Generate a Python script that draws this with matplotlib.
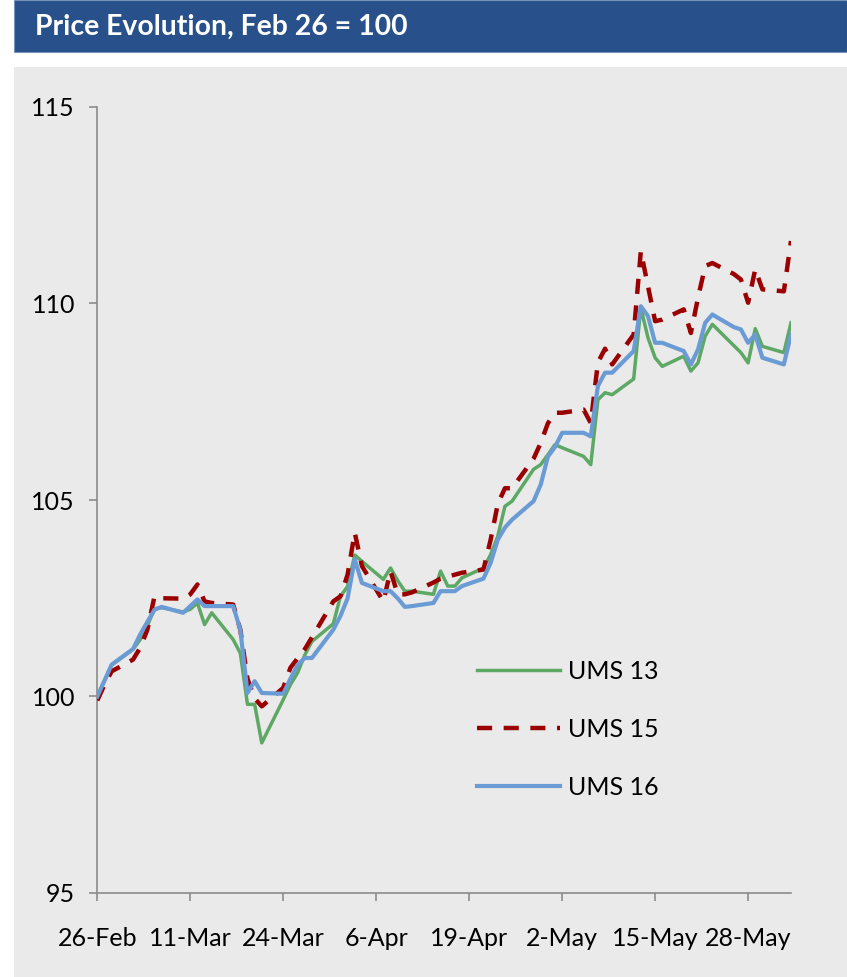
import numpy as np
import matplotlib
matplotlib.use("Agg")
import matplotlib.pyplot as plt
from matplotlib.patches import Rectangle

plt.rcParams['font.family'] = ['Lato', 'DejaVu Sans']

# Trading days, 2014
dates = [
    "2014-02-26", "2014-02-27", "2014-02-28",
    "2014-03-03", "2014-03-04", "2014-03-05", "2014-03-06", "2014-03-07",
    "2014-03-10", "2014-03-11", "2014-03-12", "2014-03-13", "2014-03-14",
    "2014-03-17", "2014-03-18", "2014-03-19", "2014-03-20", "2014-03-21",
    "2014-03-24", "2014-03-25", "2014-03-26", "2014-03-27", "2014-03-28",
    "2014-03-31", "2014-04-01", "2014-04-02", "2014-04-03", "2014-04-04",
    "2014-04-07", "2014-04-08", "2014-04-09", "2014-04-10", "2014-04-11",
    "2014-04-14", "2014-04-15", "2014-04-16", "2014-04-17", "2014-04-18",
    "2014-04-21", "2014-04-22", "2014-04-23", "2014-04-24", "2014-04-25",
    "2014-04-28", "2014-04-29", "2014-04-30", "2014-05-01", "2014-05-02",
    "2014-05-05", "2014-05-06", "2014-05-07", "2014-05-08", "2014-05-09",
    "2014-05-12", "2014-05-13", "2014-05-14", "2014-05-15", "2014-05-16",
    "2014-05-19", "2014-05-20", "2014-05-21", "2014-05-22", "2014-05-23",
    "2014-05-26", "2014-05-27", "2014-05-28", "2014-05-29", "2014-05-30",
    "2014-06-02", "2014-06-03",
]

ums13 = [
    100.00, 100.40, 100.80,
    101.20, 101.45, 101.80, 102.23, 102.26,
    102.15, 102.22, 102.38, 101.83, 102.13,
    101.45, 101.10, 99.80, 99.80, 98.82,
    99.92, 100.30, 100.60, 101.05, 101.40,
    101.85, 102.55, 102.80, 103.60, 103.44,
    102.98, 103.27, 102.95, 102.68, 102.68,
    102.60, 103.19, 102.81, 102.81, 103.02,
    103.27, 103.61, 104.08, 104.84, 104.97,
    105.78, 105.90, 106.15, 106.41, 106.33,
    106.11, 105.90, 107.55, 107.73, 107.68,
    108.08, 109.89, 109.13, 108.62, 108.40,
    108.66, 108.28, 108.49, 109.17, 109.47,
    108.93, 108.75, 108.49, 109.36, 108.91,
    108.75, 109.51,
]

ums15 = [
    99.90, 100.30, 100.64,
    100.94, 101.24, 101.70, 102.55, 102.50,
    102.49, 102.60, 102.85, 102.42, 102.38,
    102.34, 101.70, 100.45, 99.95, 99.75,
    100.22, 100.73, 100.97, 101.20, 101.50,
    102.42, 102.55, 103.10, 104.17, 103.32,
    102.42, 103.19, 102.60, 102.60, 102.65,
    102.90, 103.00, 103.05, 103.10, 103.15,
    103.23, 103.99, 104.90, 105.30, 105.30,
    106.05, 106.45, 106.95, 107.22, 107.22,
    107.30, 106.96, 108.50, 108.85, 108.45,
    109.21, 111.33, 110.44, 109.55, 109.59,
    109.85, 109.25, 110.15, 110.95, 111.03,
    110.75, 110.61, 110.02, 110.87, 110.36,
    110.31, 111.59,
]

ums16 = [
    100.00, 100.40, 100.81,
    101.21, 101.58, 101.90, 102.21, 102.28,
    102.13, 102.30, 102.47, 102.30, 102.30,
    102.30, 101.70, 100.09, 100.39, 100.09,
    100.07, 100.45, 100.80, 100.98, 100.98,
    101.70, 102.05, 102.50, 103.49, 102.89,
    102.68, 102.68, 102.50, 102.28, 102.30,
    102.38, 102.68, 102.68, 102.68, 102.81,
    103.00, 103.40, 103.99, 104.30, 104.50,
    104.97, 105.39, 106.10, 106.35, 106.71,
    106.71, 106.62, 107.90, 108.24, 108.24,
    108.79, 109.93, 109.68, 109.00, 109.00,
    108.79, 108.45, 108.83, 109.51, 109.72,
    109.40, 109.34, 109.00, 109.21, 108.62,
    108.45, 109.21,
]

tick_dates = ["2014-02-26", "2014-03-11", "2014-03-24", "2014-04-06",
              "2014-04-19", "2014-05-02", "2014-05-15", "2014-05-28"]
tick_labels = ["26-Feb", "11-Mar", "24-Mar", "6-Apr",
               "19-Apr", "2-May", "15-May", "28-May"]
y_ticks = [95, 100, 105, 110, 115]

title = "Price Evolution, Feb 26 = 100"

W, H = 847, 977
fig = plt.figure(figsize=(W / 100, H / 100), dpi=100)
fig.patch.set_facecolor("white")

# header band and grey panel
fig.patches.append(Rectangle((14 / W, 1 - 52 / H), 1 - 14 / W, 52 / H,
                             transform=fig.transFigure, facecolor="#28508A",
                             edgecolor="#7A93B8", linewidth=0.8, zorder=0))
fig.patches.append(Rectangle((14 / W, 0), 1 - 14 / W, 1 - 67 / H,
                             transform=fig.transFigure, facecolor="#EAEAEA",
                             edgecolor="none", zorder=0))
fig.text(35 / W, 1 - 27 / H, title, color="white", fontsize=20.4,
         fontweight="bold", ha="left", va="center")

left, right, top, bottom = 97.3, 791, 107, 893
ax = fig.add_axes([left / W, 1 - bottom / H, (right - left) / W, (bottom - top) / H])
ax.set_facecolor("none")
ax.set_zorder(2)

x = np.array(dates, dtype="datetime64[D]")
ax.plot(x, ums13, color="#5EA865", lw=2.5, label="UMS 13", zorder=3)
ax.plot(x, ums15, color="#9B0000", lw=3.2, label="UMS 15", zorder=4,
        linestyle=(0, (3.4, 2.6)), dash_capstyle="butt")
ax.plot(x, ums16, color="#6A9BD4", lw=3.0, label="UMS 16", zorder=5)

ax.set_xlim(np.datetime64(dates[0]), np.datetime64(dates[-1]))
ax.set_ylim(95, 115)
ax.set_xticks(np.array(tick_dates, dtype="datetime64[D]"))
ax.set_xticklabels(tick_labels)
ax.set_yticks(y_ticks)
ax.set_yticklabels([str(v) for v in y_ticks])

for s in ("top", "right"):
    ax.spines[s].set_visible(False)
for s in ("left", "bottom"):
    ax.spines[s].set_color("#8C8C8C")
    ax.spines[s].set_linewidth(1.2)

ax.tick_params(axis="both", direction="out", length=6, width=1.2,
               color="#8C8C8C", labelsize=18, labelcolor="black")
ax.tick_params(axis="y", pad=10)
ax.tick_params(axis="x", pad=18.5)

leg = ax.legend(loc="center left", bbox_to_anchor=(477 / W, 1 - 729.3 / H),
                bbox_transform=fig.transFigure, frameon=False, fontsize=18,
                handlelength=3.32, handletextpad=0.3, labelspacing=1.39,
                borderpad=0, borderaxespad=0)

fig.savefig("out.png", dpi=100)
